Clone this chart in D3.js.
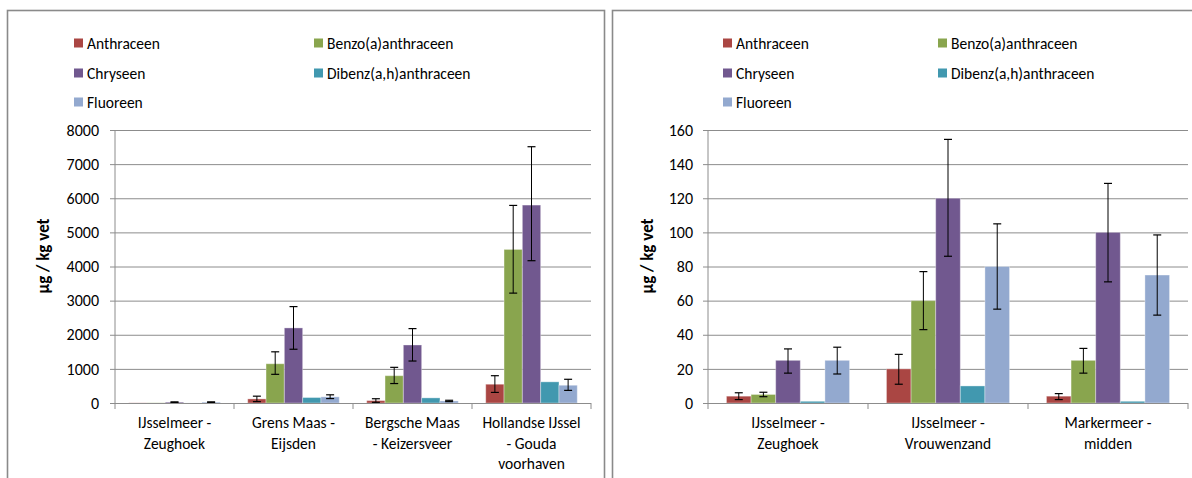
<!DOCTYPE html>
<html><head><meta charset="utf-8">
<script src="https://cdn.jsdelivr.net/npm/d3@7"></script>
<style>
body{margin:0;background:#fff;}
text{font-family:Carlito,Lato,"Liberation Sans",sans-serif;fill:#000;}
</style></head>
<body>
<svg id="c" width="1192" height="478"></svg>
<script>
const series = ["Anthraceen","Benzo(a)anthraceen","Chryseen","Dibenz(a,h)anthraceen","Fluoreen"];
const colors = ["#AA4643","#89A54E","#71588F","#4198AF","#93A9CF"];

// Left chart
const leftCategories = [["IJsselmeer -","Zeughoek"],["Grens Maas -","Eijsden"],["Bergsche Maas","- Keizersveer"],["Hollandse IJssel","- Gouda","voorhaven"]];
const leftTicks = [0,1000,2000,3000,4000,5000,6000,7000,8000];
const leftAnthraceen = [4,120,70,550];
const leftBenzo = [5,1150,800,4500];
const leftChryseen = [25,2200,1700,5800];
const leftDibenz = [1,160,150,620];
const leftFluoreen = [25,180,60,520];
// error bars [low, high]
const leftErrAnthraceen = [null,[40,200],[20,125],[310,800]];
const leftErrBenzo = [null,[840,1500],[570,1045],[3220,5790]];
const leftErrChryseen = [[18,32],[1575,2825],[1230,2180],[4170,7510]];
const leftErrDibenz = [null,null,null,null];
const leftErrFluoreen = [[17,33],[130,240],[40,80],[370,695]];

// Right chart
const rightCategories = [["IJsselmeer -","Zeughoek"],["IJsselmeer -","Vrouwenzand"],["Markermeer -","midden"]];
const rightTicks = [0,20,40,60,80,100,120,140,160];
const rightAnthraceen = [4,20,4];
const rightBenzo = [5,60,25];
const rightChryseen = [25,120,100];
const rightDibenz = [1,10,1];
const rightFluoreen = [25,80,75];
const rightErrAnthraceen = [[2,6],[11,28.5],[2,5.5]];
const rightErrBenzo = [[3.7,6.3],[43,77],[17.5,32]];
const rightErrChryseen = [[17.5,31.7],[86,154.5],[71,128.7]];
const rightErrDibenz = [null,null,null];
const rightErrFluoreen = [[17,32.7],[55,105],[51.5,98.5]];

const yTitle = "µg / kg vet";
const FONT = "Carlito,Lato,'Liberation Sans',sans-serif";

const svg = d3.select("#c");

function panel(o){
  const g = svg.append("g");
  g.append("rect").attr("x",o.px).attr("y",10.5).attr("width",o.pw).attr("height",520)
    .attr("fill","#fff").attr("stroke","#8a8a8a").attr("stroke-width",1.6);

  o.series.forEach((s,i)=>{
    const col = i%2, row = Math.floor(i/2);
    const lx = col===0 ? o.leg[0] : o.leg[1];
    const ly = [43,73,102][row];
    g.append("rect").attr("x",lx).attr("y",ly-4.5).attr("width",9).attr("height",9).attr("fill",o.colors[i]);
    g.append("text").attr("x",lx+13).attr("y",ly+5.5).attr("font-size",15.5).text(s);
  });

  const x = d3.scaleBand().domain(d3.range(o.cats.length)).range([o.x0,o.x1]).paddingInner(0).paddingOuter(0);
  const y = d3.scaleLinear().domain([0,o.ticks[o.ticks.length-1]]).range([403,130]);
  const bw = x.bandwidth()/6.5;
  const xs = d3.scaleBand().domain(d3.range(o.series.length)).range([0.75*bw, x.bandwidth()-0.75*bw]).padding(0);

  const ya = d3.axisLeft(y).tickValues(o.ticks).tickFormat(d3.format("d")).tickSize(-(o.x1-o.x0)).tickPadding(o.pad).tickSizeOuter(0);
  const yg = g.append("g").attr("transform",`translate(${o.x0},0)`).call(ya);
  yg.select(".domain").remove();
  yg.selectAll(".tick line").attr("stroke","#8c8c8c").attr("x1",-5);
  yg.selectAll(".tick text").attr("font-size",16).attr("font-family",FONT).attr("fill","#000");
  g.append("line").attr("x1",o.x0).attr("x2",o.x0).attr("y1",130).attr("y2",403).attr("stroke","#8c8c8c");

  o.values.forEach((vals,si)=>{
    vals.forEach((v,ci)=>{
      const bx = x(ci)+xs(si);
      g.append("rect").attr("x",bx).attr("y",y(v)).attr("width",xs.bandwidth()).attr("height",403-y(v))
        .attr("fill",o.colors[si]).attr("stroke","rgba(255,255,255,0.35)").attr("stroke-width",1);
    });
  });
  o.errs.forEach((errs,si)=>{
    errs.forEach((e,ci)=>{
      if(!e) return;
      const cx = x(ci)+xs(si)+xs.bandwidth()/2;
      g.append("line").attr("x1",cx).attr("x2",cx).attr("y1",y(e[0])).attr("y2",y(e[1])).attr("stroke","#000").attr("stroke-width",1);
      [e[0],e[1]].forEach(v=>g.append("line").attr("x1",cx-4).attr("x2",cx+4).attr("y1",y(v)).attr("y2",y(v)).attr("stroke","#000").attr("stroke-width",1.2));
    });
  });

  g.append("line").attr("x1",o.x0).attr("x2",o.x1).attr("y1",403.5).attr("y2",403.5).attr("stroke","#8c8c8c");
  d3.range(o.cats.length+1).forEach(i=>{
    const tx = i<o.cats.length ? x(i) : o.x1;
    g.append("line").attr("x1",tx).attr("x2",tx).attr("y1",403).attr("y2",409).attr("stroke","#8c8c8c");
  });
  o.cats.forEach((lines,ci)=>{
    const t = g.append("text").attr("text-anchor","middle").attr("font-size",15.5);
    lines.forEach((l,li)=>t.append("tspan").attr("x",x(ci)+x.bandwidth()/2).attr("y",428+li*20.5).text(l));
  });

  g.append("text").attr("transform",`translate(${o.tx},256) rotate(-90)`).attr("text-anchor","middle")
    .attr("font-size",17).attr("font-weight","bold").text(yTitle);
}

panel({px:7.5,pw:597,x0:115,x1:591,pad:16,ticks:leftTicks,cats:leftCategories,series,colors,leg:[74,314],tx:49,
  values:[leftAnthraceen,leftBenzo,leftChryseen,leftDibenz,leftFluoreen],
  errs:[leftErrAnthraceen,leftErrBenzo,leftErrChryseen,leftErrDibenz,leftErrFluoreen]});
panel({px:612.5,pw:600,x0:708,x1:1188,pad:15,ticks:rightTicks,cats:rightCategories,series,colors,leg:[723,938],tx:653,
  values:[rightAnthraceen,rightBenzo,rightChryseen,rightDibenz,rightFluoreen],
  errs:[rightErrAnthraceen,rightErrBenzo,rightErrChryseen,rightErrDibenz,rightErrFluoreen]});
</script>
</body></html>
